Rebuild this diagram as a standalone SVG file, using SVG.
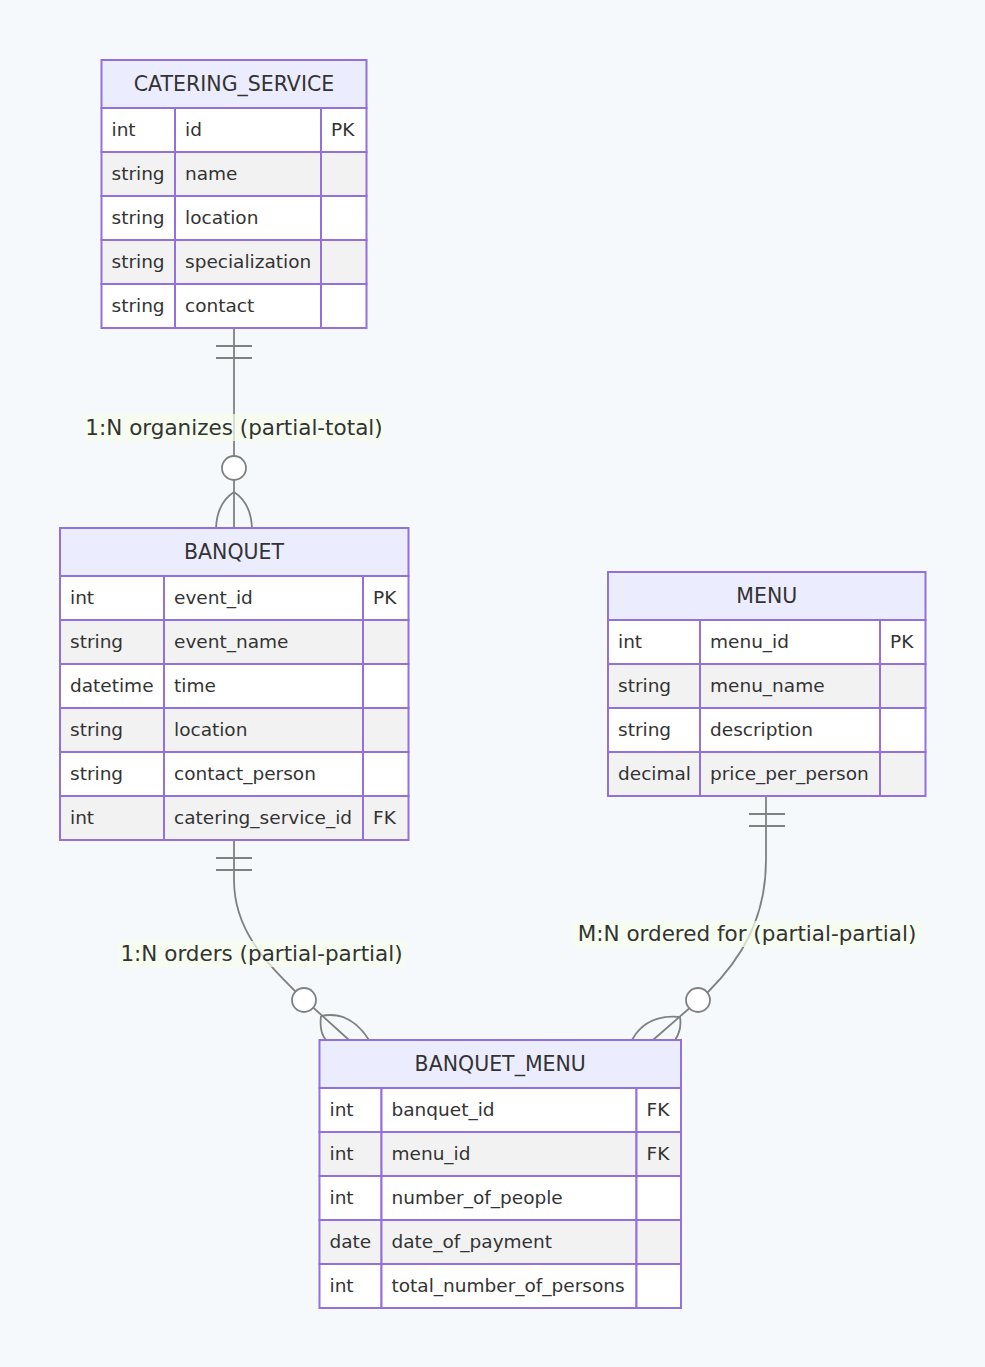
<svg xmlns="http://www.w3.org/2000/svg" width="985" height="1367" viewBox="0 0 985 1367">
<style>
.bg{fill:#f5f9fc}
.hd{fill:#ececff;stroke:#9370db;stroke-width:2}
.r1{fill:#ffffff;stroke:#9370db;stroke-width:2}
.r2{fill:#f2f2f2;stroke:#9370db;stroke-width:2}
.ht{font-family:"DejaVu Sans",sans-serif;font-size:20.5px;fill:#333;text-anchor:middle}
.t{font-family:"DejaVu Sans",sans-serif;font-size:18.5px;fill:#333}
.ln{fill:none;stroke:#808080;stroke-width:1.8}
.ci{fill:#ffffff;stroke:#808080;stroke-width:1.8}
.lb{fill:#f7ffeb;opacity:0.7}
.lt{font-family:"DejaVu Sans",sans-serif;font-size:21.5px;fill:#333;text-anchor:middle}
</style>
<rect class="bg" x="0" y="0" width="985" height="1367"/>

<g id="connectors">
  <!-- CATERING_SERVICE -> BANQUET -->
  <path class="ln" d="M234,328 L234,528"/>
  <path class="ln" d="M216,346 L252,346 M216,358 L252,358"/>
  <circle class="ci" cx="234" cy="468" r="12"/>
  <path class="ln" d="M234,492 Q217,503 216,528 M234,492 Q251,503 252,528"/>
  <!-- BANQUET -> BANQUET_MENU -->
  <path class="ln" d="M234,840 L234,880 C234,930 266,962 296,992 L349,1040"/>
  <path class="ln" d="M216,858 L252,858 M216,870 L252,870"/>
  <circle class="ci" cx="304" cy="1000" r="12"/>
  <path class="ln" d="M321,1016 Q319,1032 326,1040 M321,1016 Q350,1010 369,1040"/>
  <!-- MENU -> BANQUET_MENU -->
  <path class="ln" d="M766,796 L766,860 C766,920 740,960 708,992 L653,1040"/>
  <path class="ln" d="M749,814 L785,814 M749,826 L785,826"/>
  <circle class="ci" cx="698" cy="1000" r="12"/>
  <path class="ln" d="M680,1017 Q682,1030 675,1040 M680,1017 Q646,1014 632,1040"/>
  <!-- labels -->
  <rect class="lb" x="84" y="414" width="300" height="27"/>
  <text class="lt" x="234" y="435">1:N organizes (partial-total)</text>
  <rect class="lb" x="118" y="941" width="287" height="26"/>
  <text class="lt" x="261.5" y="961">1:N orders (partial-partial)</text>
  <rect class="lb" x="573" y="921" width="348" height="26"/>
  <text class="lt" x="747" y="941">M:N ordered for (partial-partial)</text>
</g>

<g id="CATERING_SERVICE">
  <rect class="hd" x="101.5" y="60" width="265" height="48"/>
  <text class="ht" x="234" y="91">CATERING_SERVICE</text>
  <rect class="r1" x="101.5" y="108" width="73.5" height="44"/><rect class="r1" x="175" y="108" width="146" height="44"/><rect class="r1" x="321" y="108" width="45.5" height="44"/>
  <rect class="r2" x="101.5" y="152" width="73.5" height="44"/><rect class="r2" x="175" y="152" width="146" height="44"/><rect class="r2" x="321" y="152" width="45.5" height="44"/>
  <rect class="r1" x="101.5" y="196" width="73.5" height="44"/><rect class="r1" x="175" y="196" width="146" height="44"/><rect class="r1" x="321" y="196" width="45.5" height="44"/>
  <rect class="r2" x="101.5" y="240" width="73.5" height="44"/><rect class="r2" x="175" y="240" width="146" height="44"/><rect class="r2" x="321" y="240" width="45.5" height="44"/>
  <rect class="r1" x="101.5" y="284" width="73.5" height="44"/><rect class="r1" x="175" y="284" width="146" height="44"/><rect class="r1" x="321" y="284" width="45.5" height="44"/>
  <text class="t" x="111.5" y="135.5">int</text><text class="t" x="185" y="135.5">id</text><text class="t" x="331" y="135.5">PK</text>
  <text class="t" x="111.5" y="179.5">string</text><text class="t" x="185" y="179.5">name</text>
  <text class="t" x="111.5" y="223.5">string</text><text class="t" x="185" y="223.5">location</text>
  <text class="t" x="111.5" y="267.5">string</text><text class="t" x="185" y="267.5">specialization</text>
  <text class="t" x="111.5" y="311.5">string</text><text class="t" x="185" y="311.5">contact</text>
</g>

<g id="BANQUET">
  <rect class="hd" x="60" y="528" width="348.5" height="48"/>
  <text class="ht" x="234" y="559">BANQUET</text>
  <rect class="r1" x="60" y="576" width="104" height="44"/><rect class="r1" x="164" y="576" width="199" height="44"/><rect class="r1" x="363" y="576" width="45.5" height="44"/>
  <rect class="r2" x="60" y="620" width="104" height="44"/><rect class="r2" x="164" y="620" width="199" height="44"/><rect class="r2" x="363" y="620" width="45.5" height="44"/>
  <rect class="r1" x="60" y="664" width="104" height="44"/><rect class="r1" x="164" y="664" width="199" height="44"/><rect class="r1" x="363" y="664" width="45.5" height="44"/>
  <rect class="r2" x="60" y="708" width="104" height="44"/><rect class="r2" x="164" y="708" width="199" height="44"/><rect class="r2" x="363" y="708" width="45.5" height="44"/>
  <rect class="r1" x="60" y="752" width="104" height="44"/><rect class="r1" x="164" y="752" width="199" height="44"/><rect class="r1" x="363" y="752" width="45.5" height="44"/>
  <rect class="r2" x="60" y="796" width="104" height="44"/><rect class="r2" x="164" y="796" width="199" height="44"/><rect class="r2" x="363" y="796" width="45.5" height="44"/>
  <text class="t" x="70" y="603.5">int</text><text class="t" x="174" y="603.5">event_id</text><text class="t" x="373" y="603.5">PK</text>
  <text class="t" x="70" y="647.5">string</text><text class="t" x="174" y="647.5">event_name</text>
  <text class="t" x="70" y="691.5">datetime</text><text class="t" x="174" y="691.5">time</text>
  <text class="t" x="70" y="735.5">string</text><text class="t" x="174" y="735.5">location</text>
  <text class="t" x="70" y="779.5">string</text><text class="t" x="174" y="779.5">contact_person</text>
  <text class="t" x="70" y="823.5">int</text><text class="t" x="174" y="823.5">catering_service_id</text><text class="t" x="373" y="823.5">FK</text>
</g>

<g id="MENU">
  <rect class="hd" x="608" y="572" width="317.5" height="48"/>
  <text class="ht" x="766.75" y="603">MENU</text>
  <rect class="r1" x="608" y="620" width="92" height="44"/><rect class="r1" x="700" y="620" width="180" height="44"/><rect class="r1" x="880" y="620" width="45.5" height="44"/>
  <rect class="r2" x="608" y="664" width="92" height="44"/><rect class="r2" x="700" y="664" width="180" height="44"/><rect class="r2" x="880" y="664" width="45.5" height="44"/>
  <rect class="r1" x="608" y="708" width="92" height="44"/><rect class="r1" x="700" y="708" width="180" height="44"/><rect class="r1" x="880" y="708" width="45.5" height="44"/>
  <rect class="r2" x="608" y="752" width="92" height="44"/><rect class="r2" x="700" y="752" width="180" height="44"/><rect class="r2" x="880" y="752" width="45.5" height="44"/>
  <text class="t" x="618" y="647.5">int</text><text class="t" x="710" y="647.5">menu_id</text><text class="t" x="890" y="647.5">PK</text>
  <text class="t" x="618" y="691.5">string</text><text class="t" x="710" y="691.5">menu_name</text>
  <text class="t" x="618" y="735.5">string</text><text class="t" x="710" y="735.5">description</text>
  <text class="t" x="618" y="779.5">decimal</text><text class="t" x="710" y="779.5">price_per_person</text>
</g>

<g id="BANQUET_MENU">
  <rect class="hd" x="319.5" y="1040" width="361.5" height="48"/>
  <text class="ht" x="500.25" y="1071">BANQUET_MENU</text>
  <rect class="r1" x="319.5" y="1088" width="62" height="44"/><rect class="r1" x="381.5" y="1088" width="255" height="44"/><rect class="r1" x="636.5" y="1088" width="44.5" height="44"/>
  <rect class="r2" x="319.5" y="1132" width="62" height="44"/><rect class="r2" x="381.5" y="1132" width="255" height="44"/><rect class="r2" x="636.5" y="1132" width="44.5" height="44"/>
  <rect class="r1" x="319.5" y="1176" width="62" height="44"/><rect class="r1" x="381.5" y="1176" width="255" height="44"/><rect class="r1" x="636.5" y="1176" width="44.5" height="44"/>
  <rect class="r2" x="319.5" y="1220" width="62" height="44"/><rect class="r2" x="381.5" y="1220" width="255" height="44"/><rect class="r2" x="636.5" y="1220" width="44.5" height="44"/>
  <rect class="r1" x="319.5" y="1264" width="62" height="44"/><rect class="r1" x="381.5" y="1264" width="255" height="44"/><rect class="r1" x="636.5" y="1264" width="44.5" height="44"/>
  <text class="t" x="329.5" y="1115.5">int</text><text class="t" x="391.5" y="1115.5">banquet_id</text><text class="t" x="646.5" y="1115.5">FK</text>
  <text class="t" x="329.5" y="1159.5">int</text><text class="t" x="391.5" y="1159.5">menu_id</text><text class="t" x="646.5" y="1159.5">FK</text>
  <text class="t" x="329.5" y="1203.5">int</text><text class="t" x="391.5" y="1203.5">number_of_people</text>
  <text class="t" x="329.5" y="1247.5">date</text><text class="t" x="391.5" y="1247.5">date_of_payment</text>
  <text class="t" x="329.5" y="1291.5">int</text><text class="t" x="391.5" y="1291.5">total_number_of_persons</text>
</g>
</svg>
